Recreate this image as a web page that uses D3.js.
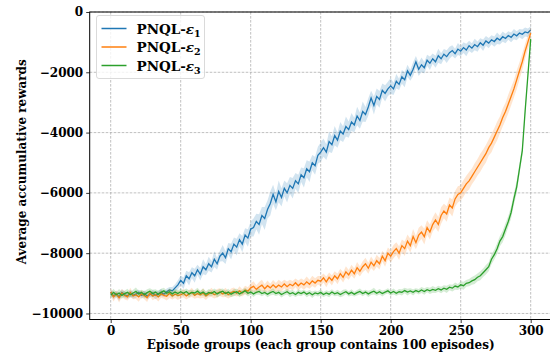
<!DOCTYPE html>
<html>
<head>
<meta charset="utf-8">
<script src="https://cdn.jsdelivr.net/npm/d3@7"></script>
<style>
  body { margin: 0; background: #fff; }
  svg { display: block; font-family: "DejaVu Serif", serif; font-weight: bold; }
</style>
</head>
<body>
<svg id="chart" width="550" height="356"></svg>
<script>
// episode groups 0..300, read every 2 groups
const groups = d3.range(0, 301, 2);

const eps1Mean = [
  -9300, -9420, -9350, -9450, -9300, -9380, -9420, -9330, -9400, -9360, -9300, -9400, -9340, -9420, -9380, -9330, -9400, -9350, -9300, -9360, -9280, -9220, -9250, -9150, -9050,
  -8900, -9000, -8750, -8850, -8650, -8750, -8550, -8700, -8450, -8550, -8350, -8450, -8200, -8350, -8100, -8000, -8150, -7850, -7950, -7700, -7800, -7550, -7700, -7400, -7500, -7200,
  -7150, -6950, -7050, -6750, -6850, -6550, -6350, -6050, -6300, -5950, -6150, -5850, -6000, -5750, -5850, -5600, -5700, -5400, -5500, -5200, -5300, -5000, -5100, -4750, -4650,
  -4500, -4650, -4300, -4400, -4100, -4250, -3950, -4050, -3800, -3900, -3650, -3750, -3450, -3600, -3300, -3400, -3150, -2850, -3100, -2800, -2900, -2600, -2700, -2550, -2450,
  -2550, -2300, -2400, -2150, -2250, -1950, -2100, -1900, -1650, -1900, -1750, -1850, -1600, -1700, -1550, -1650, -1450, -1550, -1400, -1480, -1350, -1280, -1380, -1230, -1300,
  -1180, -1260, -1120, -1200, -1080, -1150, -1020, -1100, -960, -1030, -920, -980, -870, -930, -820, -880, -780, -840, -730, -790, -700, -740, -660, -690, -600
];
const eps1Std = [
  80, 120, 90, 130, 100, 110, 90, 120, 100, 130, 90, 110, 100, 120, 90, 110, 130, 100, 120, 90, 110, 100, 130, 120, 150,
  160, 190, 170, 220, 180, 230, 170, 210, 250, 180, 230, 190, 260, 200, 180, 270, 210, 190, 260, 220, 280, 210, 270, 230, 290, 250,
  300, 260, 340, 280, 380, 300, 400, 320, 280, 360, 300, 260, 320, 280, 340, 260, 300, 240, 320, 280, 340, 260, 300, 280, 320,
  300, 260, 340, 280, 320, 250, 300, 260, 330, 270, 300, 240, 310, 270, 330, 250, 290, 240, 300, 260, 280, 230, 270, 240, 260,
  200, 240, 190, 230, 250, 200, 180, 230, 190, 220, 240, 190, 180, 220, 170, 200, 230, 180, 170, 210, 200, 180, 160, 200, 170,
  180, 210, 170, 160, 190, 170, 150, 190, 160, 170, 150, 170, 190, 150, 170, 160, 140, 160, 170, 150, 140, 160, 150, 140, 130
];

const eps2Mean = [
  -9280, -9450, -9350, -9480, -9320, -9400, -9450, -9300, -9420, -9380, -9450, -9350, -9400, -9470, -9330, -9420, -9380, -9450, -9350, -9400, -9430, -9330, -9420, -9360, -9400,
  -9380, -9330, -9420, -9350, -9300, -9400, -9340, -9380, -9320, -9420, -9350, -9300, -9380, -9330, -9290, -9350, -9300, -9380, -9310, -9270, -9330, -9250, -9320, -9220, -9260,
  -9150, -9100, -9200, -9120, -9060, -9180, -9080, -9150, -9050, -9140, -9060, -9120, -9020, -9110, -9030, -9080, -8980, -9080, -8990, -9050, -8950, -9030, -8920, -8990, -8900,
  -8930, -8820, -8950, -8800, -8900, -8750, -8850, -8680, -8800, -8620, -8720, -8560, -8680, -8480, -8600, -8450, -8350, -8500, -8300, -8420, -8250, -8350, -8100, -8250, -8000,
  -8100, -7950, -7850, -8000, -7750, -7850, -7600, -7750, -7450, -7650, -7400, -7300, -7450, -7150, -7300, -7050, -6900, -7050, -6750, -6600, -6700, -6400, -6500, -6200, -6050,
  -6000, -5850, -5700, -5600, -5450, -5300, -5150, -5000, -4850, -4700, -4500, -4350, -4150, -3950, -3750, -3500, -3300, -3050, -2800, -2550, -2250, -1950, -1650, -1300, -1000, -700
];
const eps2Std = [
  120, 150, 110, 160, 130, 140, 120, 150, 110, 140, 160, 120, 130, 150, 110, 140, 120, 150, 130, 110, 140, 160, 120, 130, 150,
  110, 140, 120, 130, 150, 110, 140, 120, 160, 130, 110, 150, 120, 140, 130, 110, 150, 120, 140, 130, 110, 150, 120, 140, 130,
  150, 170, 140, 160, 180, 150, 170, 140, 160, 150, 180, 160, 140, 170, 150, 160, 140, 170, 150, 160, 180, 150, 170, 160, 140,
  170, 150, 180, 160, 170, 150, 180, 160, 170, 190, 160, 180, 170, 190, 170, 180, 200, 180, 190, 170, 200, 190, 180, 200, 190,
  200, 220, 210, 230, 200, 240, 220, 230, 250, 220, 240, 230, 260, 240, 250, 230, 260, 250, 270, 240, 260, 250, 280, 260, 270,
  250, 280, 270, 290, 260, 280, 270, 300, 280, 290, 270, 300, 290, 310, 280, 300, 290, 310, 300, 290, 310, 280, 270, 250, 230, 200
];

const eps3Mean = [
  -9400, -9300, -9380, -9320, -9400, -9340, -9300, -9380, -9320, -9270, -9350, -9300, -9380, -9310, -9260, -9340, -9290, -9360, -9300, -9250, -9330, -9280, -9350, -9290, -9340,
  -9280, -9330, -9270, -9350, -9300, -9320, -9260, -9340, -9290, -9360, -9300, -9330, -9270, -9350, -9300, -9260, -9340, -9290, -9360, -9310, -9280, -9350, -9300, -9250, -9330,
  -9290, -9350, -9300, -9270, -9340, -9300, -9360, -9310, -9270, -9340, -9300, -9370, -9320, -9280, -9350, -9310, -9370, -9300, -9340, -9290, -9360, -9310, -9380, -9320, -9350,
  -9300, -9370, -9320, -9360, -9290, -9350, -9310, -9370, -9320, -9280, -9350, -9300, -9360, -9310, -9270, -9340, -9290, -9350, -9300, -9260, -9330, -9280, -9340, -9290, -9250,
  -9320, -9270, -9330, -9280, -9300, -9240, -9290, -9250, -9300, -9240, -9280, -9220, -9270, -9210, -9250, -9200, -9230, -9180, -9220, -9160, -9200, -9130, -9160, -9090, -9120,
  -9050, -9080, -9000, -8980, -8920, -8880, -8800, -8750, -8650, -8550, -8450, -8200, -8050, -7850, -7600, -7450, -7200, -6950, -6650, -6200, -5800, -5200, -4600, -3300, -2100, -900
];
const eps3Std = [
  100, 120, 90, 130, 110, 100, 120, 90, 110, 130, 100, 90, 120, 110, 100, 130, 90, 110, 120, 100, 90, 110, 130, 100, 120,
  90, 110, 100, 120, 90, 100, 110, 90, 120, 100, 110, 90, 100, 120, 110, 90, 100, 110, 90, 120, 100, 110, 90, 100, 110,
  90, 100, 80, 110, 90, 80, 100, 90, 110, 80, 90, 100, 80, 90, 110, 90, 80, 100, 90, 80, 100, 90, 110, 80, 90,
  100, 80, 90, 100, 90, 80, 100, 90, 110, 80, 90, 100, 80, 90, 100, 90, 80, 100, 90, 110, 80, 90, 100, 80, 90,
  90, 100, 80, 90, 100, 90, 110, 90, 100, 80, 90, 100, 110, 90, 100, 110, 90, 100, 110, 100, 120, 100, 110, 120, 100,
  120, 130, 110, 120, 130, 140, 130, 150, 140, 160, 150, 170, 160, 180, 170, 190, 200, 180, 200, 190, 200, 180, 170, 150, 130, 100
];

const seriesNames = ['1', '2', '3'];
const seriesColors = ['#1f77b4', '#ff7f0e', '#2ca02c'];
const xTicks = [0, 50, 100, 150, 200, 250, 300];
const yTicks = [0, -2000, -4000, -6000, -8000, -10000];

const series = [
  { name: seriesNames[0], mean: eps1Mean, std: eps1Std, color: seriesColors[0] },
  { name: seriesNames[1], mean: eps2Mean, std: eps2Std, color: seriesColors[1] },
  { name: seriesNames[2], mean: eps3Mean, std: eps3Std, color: seriesColors[2] }
];

const svg = d3.select('#chart');
const plot = { left: 89.7, right: 551.7, top: 12, bottom: 319.5 };

const xScale = d3.scaleLinear().domain([-15, 315]).range([plot.left, plot.right]);
const yScale = d3.scaleLinear().domain([-10200, 0]).range([plot.bottom, plot.top]);

// grid
const grid = svg.append('g').attr('stroke', '#b0b0b0').attr('stroke-width', 0.8).attr('stroke-dasharray', '2.6,1.4');
grid.selectAll('.gx').data(xTicks).enter().append('line')
  .attr('x1', d => xScale(d)).attr('x2', d => xScale(d))
  .attr('y1', plot.top).attr('y2', plot.bottom);
grid.selectAll('.gy').data(yTicks).enter().append('line')
  .attr('x1', plot.left).attr('x2', plot.right)
  .attr('y1', d => yScale(d)).attr('y2', d => yScale(d));

// bands + lines
const area = d3.area()
  .x((d, i) => xScale(groups[i]))
  .y0(d => yScale(d[0] - d[1]))
  .y1(d => yScale(d[0] + d[1]));
const line = d3.line()
  .x((d, i) => xScale(groups[i]))
  .y(d => yScale(d));

const marks = svg.append('g');
series.forEach(s => {
  marks.append('path')
    .attr('d', area(s.mean.map((m, i) => [m, s.std[i]])))
    .attr('fill', s.color).attr('fill-opacity', 0.2);
  marks.append('path')
    .attr('d', line(s.mean))
    .attr('fill', 'none').attr('stroke', s.color).attr('stroke-width', 1.3);
});

// axes
const xAxis = d3.axisBottom(xScale).tickValues(xTicks).tickSize(3.5).tickPadding(3);
const yAxis = d3.axisLeft(yScale).tickValues(yTicks).tickSize(3.5).tickPadding(3)
  .tickFormat(d => d3.format('d')(d).replace('-', '\u2212'));

const gx = svg.append('g').attr('transform', `translate(0, ${plot.bottom})`).call(xAxis);
const gy = svg.append('g').attr('transform', `translate(${plot.left}, 0)`).call(yAxis);
[gx, gy].forEach(g => {
  g.select('.domain').remove();
  g.selectAll('text').attr('font-family', '"DejaVu Serif", serif').attr('font-weight', 'bold')
    .attr('font-size', 12).attr('fill', '#000');
  g.selectAll('line').attr('stroke', '#000').attr('stroke-width', 0.8);
});

// frame
svg.append('rect')
  .attr('x', plot.left).attr('y', plot.top)
  .attr('width', plot.right - plot.left).attr('height', plot.bottom - plot.top)
  .attr('fill', 'none').attr('stroke', '#000').attr('stroke-width', 1);

// axis labels
svg.append('text')
  .attr('x', (plot.left + plot.right) / 2).attr('y', 349)
  .attr('text-anchor', 'middle').attr('font-size', 12)
  .text('Episode groups (each group contains 100 episodes)');
svg.append('text')
  .attr('transform', `translate(26, ${(plot.top + plot.bottom) / 2 - 4}) rotate(-90)`)
  .attr('text-anchor', 'middle').attr('font-size', 12)
  .text('Average accumulative rewards');

// legend
const legend = svg.append('g').attr('transform', 'translate(96.5, 15.5)');
legend.append('rect')
  .attr('width', 108).attr('height', 63).attr('rx', 2.5)
  .attr('fill', '#fff').attr('fill-opacity', 0.8)
  .attr('stroke', '#d0d0d0').attr('stroke-width', 0.8);
series.forEach((s, i) => {
  const y = 13 + i * 18.5;
  legend.append('line')
    .attr('x1', 5).attr('x2', 30).attr('y1', y).attr('y2', y)
    .attr('stroke', s.color).attr('stroke-width', 1.5);
  const t = legend.append('text').attr('x', 40).attr('y', y + 5).attr('font-size', 13.5);
  t.append('tspan').text('PNQL-');
  t.append('tspan').attr('font-style', 'italic').text('\u03b5');
  t.append('tspan').attr('font-size', 9.5).attr('dy', 3).text(s.name);
});
</script>
</body>
</html>
